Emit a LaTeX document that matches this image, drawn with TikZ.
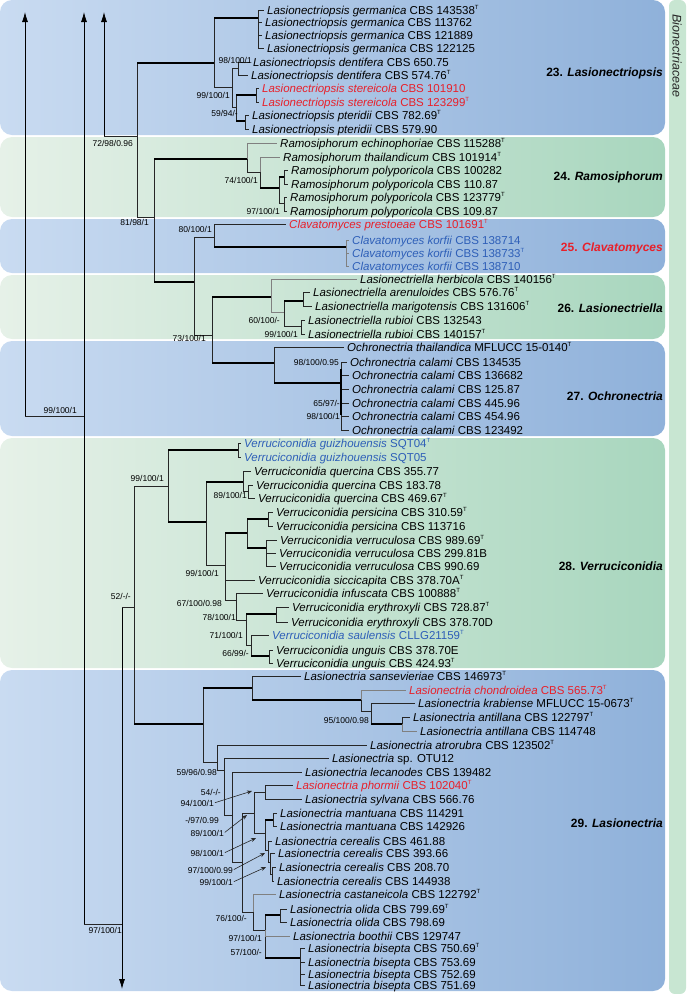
\documentclass[tikz,border=0pt]{standalone}
\usepackage{fontspec}
\setmainfont{Liberation Sans}
\usetikzlibrary{arrows.meta}
\definecolor{bluL}{HTML}{C9DBF1}
\definecolor{bluR}{HTML}{8FB1DA}
\definecolor{grnL}{HTML}{E6F1E8}
\definecolor{grnR}{HTML}{A8D6BE}
\definecolor{stripc}{HTML}{C8E6D2}
\definecolor{tred}{HTML}{E8202A}
\definecolor{tblue}{HTML}{2E5FB8}
\newcommand\Ty{\textsuperscript{\fontsize{6}{6}\selectfont T}}
\newcommand\brn[3][br]{\draw[#1] (#2) |- (#3);}
\newcommand\brt[2]{\draw[br] (#1) |- (#2); \draw[thk] (#1 |- #2) -- (#2);}
\tikzset{
 taxon/.style={anchor=west, inner xsep=3pt, inner ysep=0pt, text height=8pt, text depth=0pt, font=\fontsize{11.5}{12}\selectfont},
 bs/.style={anchor=east, inner sep=0pt, text height=6pt, text depth=0pt, font=\fontsize{8.5}{9}\selectfont},
 grp/.style={anchor=east, inner sep=0pt, text height=8.6pt, text depth=0pt, font=\fontsize{12}{13}\selectfont\bfseries},
 br/.style={line width=0.75pt, draw=black!85},
 brg/.style={line width=0.75pt, draw=black!50},
 thk/.style={line width=2.6pt, draw=black},
 aline/.style={line width=0.6pt, draw=black!85, shorten <=1pt, -{Stealth[length=5pt,width=4pt]}},
 bigarrow/.style={line width=0.8pt, -{Latex[length=10pt,width=6pt]}},
}
\begin{document}
\begin{tikzpicture}[x=1pt,y=-1pt]
\useasboundingbox (0,0) rectangle (686,994);
% panels
\shade[left color=bluL,right color=bluR,rounded corners=12pt] (0,0) rectangle (665,135);
\shade[left color=grnL,right color=grnR,rounded corners=12pt] (0,137) rectangle (665,217);
\shade[left color=bluL,right color=bluR,rounded corners=12pt] (0,219) rectangle (665,273);
\shade[left color=grnL,right color=grnR,rounded corners=12pt] (0,275) rectangle (665,339);
\shade[left color=bluL,right color=bluR,rounded corners=12pt] (0,341) rectangle (665,436);
\shade[left color=grnL,right color=grnR,rounded corners=12pt] (0,438) rectangle (665,668);
\shade[left color=bluL,right color=bluR,rounded corners=12pt] (0,670) rectangle (665,991);
\fill[stripc,rounded corners=6pt] (669,0) rectangle (686,994);
\node[rotate=-90, inner sep=0pt, font=\itshape\fontsize{12.5}{13}\selectfont, text=black!85] (fam) at (677,56) {Bionectriaceae};

% group labels
\node[grp] (G23) at (663,72) {23. \textit{Lasionectriopsis}};
\node[grp] (G24) at (663,176) {24. \textit{Ramosiphorum}};
\node[grp,text=tred] (G25) at (663,247) {25. \textit{Clavatomyces}};
\node[grp] (G26) at (663,308) {26. \textit{Lasionectriella}};
\node[grp] (G27) at (663,396) {27. \textit{Ochronectria}};
\node[grp] (G28) at (663,566) {28. \textit{Verruciconidia}};
\node[grp] (G29) at (663,823) {29. \textit{Lasionectria}};

% backbone arrows
\coordinate (a1t) at (25,12); \coordinate (a1) at (25,416);
\coordinate (a2t) at (84,12); \coordinate (a2) at (84,924);
\coordinate (a3t) at (104,12); \coordinate (a3) at (104,136);
\coordinate (a4) at (122,607); \coordinate (a4b) at (122,989);
\draw[bigarrow] (a1) -- (a1t);
\draw[bigarrow] (a2) -- (a2t);
\draw[bigarrow] (a3) -- (a3t);
\draw[bigarrow] (a4) -- (a4b);
\draw[br] (a1) -- (a1 -| a2);
\draw[br] (a2) -- (a2 -| a4);
\coordinate (B) at (137,136); \draw[br] (a3) -- (B);
\coordinate (VL) at (134,607); \draw[br] (a4) -- (VL);

% ---- Lasionectriopsis
\coordinate (M) at (214,63); \brt{B}{M}
\coordinate (C) at (154,217); \brn{B}{C}
\coordinate (germ) at (258,18); \brt{M}{germ}
\coordinate (N) at (232,87); \brn{M}{N}
\coordinate (dent) at (238,68); \brn{N}{dent}
\coordinate (O) at (236,107); \brn{N}{O}
\coordinate (stere) at (256,95); \brt{O}{stere}
\coordinate (pter) at (245,121); \brt{O}{pter}
\node[taxon] (g1) at (264,10) {\textit{Lasionectriopsis germanica} CBS 143538\Ty};
\node[taxon] (g2) at (262,22) {\textit{Lasionectriopsis germanica} CBS 113762};
\node[taxon] (g3) at (262,35) {\textit{Lasionectriopsis germanica} CBS 121889};
\node[taxon] (g4) at (264,48) {\textit{Lasionectriopsis germanica} CBS 122125};
\node[taxon] (d1) at (250,62) {\textit{Lasionectriopsis dentifera} CBS 650.75};
\node[taxon] (d2) at (248,75) {\textit{Lasionectriopsis dentifera} CBS 574.76\Ty};
\node[taxon,text=tred] (s1) at (259,88) {\textit{Lasionectriopsis stereicola} CBS 101910};
\node[taxon,text=tred] (s2) at (259,102) {\textit{Lasionectriopsis stereicola} CBS 123299\Ty};
\node[taxon] (p1) at (249,115) {\textit{Lasionectriopsis pteridii} CBS 782.69\Ty};
\node[taxon] (p2) at (249,129) {\textit{Lasionectriopsis pteridii} CBS 579.90};
\brn{germ}{g1.west} \brn{germ}{g2.west} \brn{germ}{g3.west} \brn{germ}{g4.west}
\brn{dent}{d1.west} \brn{dent}{d2.west}
\brn{stere}{s1.west} \brn{stere}{s2.west}
\brn{pter}{p1.west} \brn{pter}{p2.west}
\node[bs] (b1) at (252,60) {98/100/1};
\node[bs] (b2) at (230,95) {99/100/1};
\node[bs] (b3) at (238,113) {59/94/-};
\node[bs] (b4) at (133,143) {72/98/0.96};

% ---- Ramosiphorum
\coordinate (P) at (247,159); \brt{C}{P}
\coordinate (D) at (194,282); \brt{C}{D}
\coordinate (Q) at (260,172); \brn{P}{Q}
\coordinate (R) at (279,188); \brt{Q}{R}
\coordinate (rp1) at (284,177); \brt{R}{rp1}
\coordinate (rp2) at (284,203); \brn{R}{rp2}
\node[taxon] (r1) at (277,143) {\textit{Ramosiphorum echinophoriae} CBS 115288\Ty};
\node[taxon] (r2) at (280,157) {\textit{Ramosiphorum thailandicum} CBS 101914\Ty};
\node[taxon] (r3) at (288,170) {\textit{Ramosiphorum polyporicola} CBS 100282};
\node[taxon] (r4) at (288,184) {\textit{Ramosiphorum polyporicola} CBS 110.87};
\node[taxon] (r5) at (287,197) {\textit{Ramosiphorum polyporicola} CBS 123779\Ty};
\node[taxon] (r6) at (287,211) {\textit{Ramosiphorum polyporicola} CBS 109.87};
\brn[brg]{P}{r1.west} \brn[brg]{Q}{r2.west}
\brn{rp1}{r3.west} \brn{rp1}{r4.west} \brn{rp2}{r5.west} \brn{rp2}{r6.west}
\node[bs] (b5) at (258,180) {74/100/1};
\node[bs] (b6) at (280,211) {97/100/1};
\node[bs] (b7) at (149,222) {81/98/1};

% ---- Clavatomyces
\coordinate (F) at (214,237); \brn{D}{F}
\coordinate (E) at (212,335); \brn{D}{E}
\coordinate (kor) at (346,247); \brt{F}{kor}
\node[taxon,text=tred] (c1) at (286,224) {\textit{Clavatomyces prestoeae} CBS 101691\Ty};
\node[taxon,text=tblue] (k1) at (349,240) {\textit{Clavatomyces korfii} CBS 138714};
\node[taxon,text=tblue] (k2) at (349,253) {\textit{Clavatomyces korfii} CBS 138733\Ty};
\node[taxon,text=tblue] (k3) at (349,266) {\textit{Clavatomyces korfii} CBS 138710};
\brn{F}{c1.west} \brn[brg]{kor}{k1.west} \brn[brg]{kor}{k2.west} \brn[brg]{kor}{k3.west}
\node[bs] (b8) at (212,229) {80/100/1};

% ---- Lasionectriella
\coordinate (lel) at (271,297); \brt{E}{lel}
\coordinate (och) at (274,363); \brt{E}{och}
\coordinate (H) at (284,312); \brn[brg]{lel}{H}
\coordinate (am) at (303,301); \brt{H}{am}
\coordinate (rub) at (301,326); \brn{H}{rub}
\node[taxon] (l1) at (357,279) {\textit{Lasionectriella herbicola} CBS 140156\Ty};
\node[taxon] (l2) at (310,292) {\textit{Lasionectriella arenuloides} CBS 576.76\Ty};
\node[taxon] (l3) at (312,306) {\textit{Lasionectriella marigotensis} CBS 131606\Ty};
\node[taxon] (l4) at (305,320) {\textit{Lasionectriella rubioi} CBS 132543};
\node[taxon] (l5) at (305,334) {\textit{Lasionectriella rubioi} CBS 140157\Ty};
\brn[brg]{lel}{l1.west} \brn{am}{l2.west} \brn{am}{l3.west} \brn{rub}{l4.west} \brn{rub}{l5.west}
\node[bs] (b9) at (280,320) {60/100/-};
\node[bs] (b10) at (298,334) {99/100/1};
\node[bs] (b11) at (206,338) {73/100/1};

% ---- Ochronectria
\coordinate (cal) at (341,383); \brt{och}{cal}
\node[taxon] (o1) at (344,347) {\textit{Ochronectria thailandica} MFLUCC 15-0140\Ty};
\node[taxon] (o2) at (347,362) {\textit{Ochronectria calami} CBS 134535};
\node[taxon] (o3) at (349,375) {\textit{Ochronectria calami} CBS 136682};
\node[taxon] (o4) at (349,389) {\textit{Ochronectria calami} CBS 125.87};
\node[taxon] (o5) at (349,403) {\textit{Ochronectria calami} CBS 445.96};
\node[taxon] (o6) at (349,416) {\textit{Ochronectria calami} CBS 454.96};
\node[taxon] (o7) at (349,430) {\textit{Ochronectria calami} CBS 123492};
\brn{och}{o1.west}
\brn{cal}{o2.west} \brn{cal}{o3.west} \brn{cal}{o4.west} \brn{cal}{o5.west} \brn{cal}{o6.west} \brn{cal}{o7.west}
\coordinate (calA) at (341,369); \coordinate (calB) at (341,415);
\draw[line width=2pt] (calA) -- (calB);
\node[bs] (b12) at (339,362) {98/100/0.95};
\node[bs] (b13) at (340,403) {65/97/-};
\node[bs] (b14) at (340,416) {98/100/1};
\node[bs] (b15) at (77,410) {99/100/1};

% ---- Verruciconidia
\coordinate (S) at (168,486); \brn{VL}{S}
\coordinate (L0) at (203,724); \brt{VL}{L0}
\coordinate (gui) at (238,450); \brt{S}{gui}
\coordinate (T) at (206,522); \brt{S}{T}
\coordinate (quer) at (243,482); \brt{T}{quer}
\coordinate (U) at (225,565); \brn{T}{U}
\coordinate (q2) at (248,491); \brn{quer}{q2}
\coordinate (V) at (247,533); \brt{U}{V}
\coordinate (X) at (236,600); \brn{U}{X}
\coordinate (pers) at (268,519); \brt{V}{pers}
\coordinate (verr) at (266,548); \brt{V}{verr}
\coordinate (Y) at (246,620); \brn{X}{Y}
\coordinate (ery) at (276,614); \brt{Y}{ery}
\coordinate (Z) at (251,645); \brn{Y}{Z}
\coordinate (ung) at (269,656); \brt{Z}{ung}
\node[taxon,text=tblue] (v1) at (241,443) {\textit{Verruciconidia guizhouensis} SQT04\Ty};
\node[taxon,text=tblue] (v2) at (241,457) {\textit{Verruciconidia guizhouensis} SQT05};
\node[taxon] (v3) at (251,471) {\textit{Verruciconidia quercina} CBS 355.77};
\node[taxon] (v4) at (253,485) {\textit{Verruciconidia quercina} CBS 183.78};
\node[taxon] (v5) at (255,498) {\textit{Verruciconidia quercina} CBS 469.67\Ty};
\node[taxon] (v6) at (273,512) {\textit{Verruciconidia persicina} CBS 310.59\Ty};
\node[taxon] (v7) at (273,526) {\textit{Verruciconidia persicina} CBS 113716};
\node[taxon] (v8) at (277,540) {\textit{Verruciconidia verruculosa} CBS 989.69\Ty};
\node[taxon] (v9) at (276,553) {\textit{Verruciconidia verruculosa} CBS 299.81B};
\node[taxon] (v10) at (276,566) {\textit{Verruciconidia verruculosa} CBS 990.69};
\node[taxon] (v11) at (255,580) {\textit{Verruciconidia siccicapita} CBS 378.70A\Ty};
\node[taxon] (v12) at (263,593) {\textit{Verruciconidia infuscata} CBS 100888\Ty};
\node[taxon] (v13) at (289,607) {\textit{Verruciconidia erythroxyli} CBS 728.87\Ty};
\node[taxon] (v14) at (288,622) {\textit{Verruciconidia erythroxyli} CBS 378.70D};
\node[taxon,text=tblue] (v15) at (269,635) {\textit{Verruciconidia saulensis} CLLG21159\Ty};
\node[taxon] (v16) at (273,650) {\textit{Verruciconidia unguis} CBS 378.70E};
\node[taxon] (v17) at (273,663) {\textit{Verruciconidia unguis} CBS 424.93\Ty};
\brn{gui}{v1.west} \brn{gui}{v2.west}
\brn{quer}{v3.west} \brn{q2}{v4.west} \brn{q2}{v5.west}
\brn{pers}{v6.west} \brn{pers}{v7.west}
\brn{verr}{v8.west} \brn{verr}{v9.west} \brn{verr}{v10.west}
\brn{U}{v11.west} \brn{X}{v12.west}
\brn{ery}{v13.west} \brn{ery}{v14.west}
\brn{Z}{v15.west} \brn{ung}{v16.west} \brn{ung}{v17.west}
\node[bs] (b16) at (164,478) {99/100/1};
\node[bs] (b17) at (247,495) {89/100/1};
\node[bs] (b18) at (219,573) {99/100/1};
\node[bs] (b19) at (131,596) {52/-/-};
\node[bs] (b20) at (222,603) {67/100/0.98};
\node[bs] (b21) at (236,617) {78/100/1};
\node[bs] (b22) at (243,635) {71/100/1};
\node[bs] (b23) at (249,653) {66/99/-};

% ---- Lasionectria
\coordinate (AB) at (252,688); \brt{L0}{AB}
\coordinate (AC) at (217,762); \brn{L0}{AC}
\coordinate (AD) at (361,700); \brt{AB}{AD}
\coordinate (AE) at (371,711); \brn{AD}{AE}
\coordinate (AF) at (402,724); \brt{AE}{AF}
\coordinate (AG) at (224,770); \brn{AC}{AG}
\coordinate (AH) at (232,815); \brn{AG}{AH}
\coordinate (AI) at (242,862); \brn{AH}{AI}
\coordinate (AJ) at (254,813); \brn{AI}{AJ}
\coordinate (BA) at (253,912); \brn{AI}{BA}
\coordinate (AK) at (265,792); \brn{AJ}{AK}
\coordinate (AL) at (265,833); \brn{AJ}{AL}
\coordinate (mant) at (273,820); \brt{AL}{mant}
\coordinate (CE1) at (268,850); \brn{AL}{CE1}
\coordinate (CE2) at (270,862); \brn{CE1}{CE2}
\coordinate (CE3) at (272,874); \brn{CE2}{CE3}
\coordinate (BB) at (265,930); \brn{BA}{BB}
\coordinate (oli) at (280,915); \brt{BB}{oli}
\coordinate (bis) at (300,958); \brt{BB}{bis}
\node[taxon] (n1) at (301,676) {\textit{Lasionectria sansevieriae} CBS 146973\Ty};
\node[taxon,text=tred] (n2) at (406,690) {\textit{Lasionectria chondroidea} CBS 565.73\Ty};
\node[taxon] (n3) at (415,703) {\textit{Lasionectria krabiense} MFLUCC 15-0673\Ty};
\node[taxon] (n4) at (410,717) {\textit{Lasionectria antillana} CBS 122797\Ty};
\node[taxon] (n5) at (417,731) {\textit{Lasionectria antillana} CBS 114748};
\node[taxon] (n6) at (367,745) {\textit{Lasionectria atrorubra} CBS 123502\Ty};
\node[taxon] (n7) at (329,758) {\textit{Lasionectria} sp. OTU12};
\node[taxon] (n8) at (302,772) {\textit{Lasionectria lecanodes} CBS 139482};
\node[taxon,text=tred] (n9) at (293,785) {\textit{Lasionectria phormii} CBS 102040\Ty};
\node[taxon] (n10) at (302,799) {\textit{Lasionectria sylvana} CBS 566.76};
\node[taxon] (n11) at (277,813) {\textit{Lasionectria mantuana} CBS 114291};
\node[taxon] (n12) at (277,826) {\textit{Lasionectria mantuana} CBS 142926};
\node[taxon] (n13) at (272,841) {\textit{Lasionectria cerealis} CBS 461.88};
\node[taxon] (n14) at (275,853) {\textit{Lasionectria cerealis} CBS 393.66};
\node[taxon] (n15) at (276,867) {\textit{Lasionectria cerealis} CBS 208.70};
\node[taxon] (n16) at (274,881) {\textit{Lasionectria cerealis} CBS 144938};
\node[taxon] (n17) at (276,894) {\textit{Lasionectria castaneicola} CBS 122792\Ty};
\node[taxon] (n18) at (287,909) {\textit{Lasionectria olida} CBS 799.69\Ty};
\node[taxon] (n19) at (287,922) {\textit{Lasionectria olida} CBS 798.69};
\node[taxon] (n20) at (290,936) {\textit{Lasionectria boothii} CBS 129747};
\node[taxon] (n21) at (305,948) {\textit{Lasionectria bisepta} CBS 750.69\Ty};
\node[taxon] (n22) at (305,962) {\textit{Lasionectria bisepta} CBS 753.69};
\node[taxon] (n23) at (305,974) {\textit{Lasionectria bisepta} CBS 752.69};
\node[taxon] (n24) at (305,985) {\textit{Lasionectria bisepta} CBS 751.69};
\brn{AB}{n1.west} \brn[brg]{AD}{n2.west} \brn{AE}{n3.west}
\brn{AF}{n4.west} \brn[brg]{AF}{n5.west}
\brn{AC}{n6.west} \brn{AG}{n7.west} \brn{AH}{n8.west}
\brn{AK}{n9.west} \brn{AK}{n10.west}
\brn{mant}{n11.west} \brn{mant}{n12.west}
\brn{CE1}{n13.west} \brn{CE2}{n14.west} \brn{CE3}{n15.west} \brn{CE3}{n16.west}
\brn[brg]{BA}{n17.west}
\brn{oli}{n18.west} \brn{oli}{n19.west} \brn[brg]{BB}{n20.west}
\brn{bis}{n21.west} \brn{bis}{n22.west} \brn{bis}{n23.west} \brn{bis}{n24.west}
\node[bs] (b24) at (369,720) {95/100/0.98};
\node[bs] (b25) at (217,772) {59/96/0.98};
\node[bs] (b26) at (221,792) {54/-/-};
\node[bs] (b27) at (214,803) {94/100/1};
\node[bs] (b28) at (219,820) {-/97/0.99};
\node[bs] (b29) at (224,833) {89/100/1};
\node[bs] (b30) at (224,853) {98/100/1};
\node[bs] (b31) at (233,870) {97/100/0.99};
\node[bs] (b32) at (233,882) {99/100/1};
\node[bs] (b33) at (247,918) {76/100/-};
\node[bs] (b34) at (122,930) {97/100/1};
\node[bs] (b35) at (262,938) {97/100/1};
\node[bs] (b36) at (262,952) {57/100/-};
\coordinate (t27) at (252,791);
\coordinate (t29) at (247,815);
\coordinate (t30) at (256,838);
\coordinate (t31) at (265,853);
\coordinate (t32) at (266,867);
\draw[aline] (b27.east) -- (t27);
\draw[aline] (b29.east) -- (t29);
\draw[aline] (b30.east) -- (t30);
\draw[aline] (b31.east) -- (t31);
\draw[aline] (b32.east) -- (t32);
\end{tikzpicture}
\end{document}
